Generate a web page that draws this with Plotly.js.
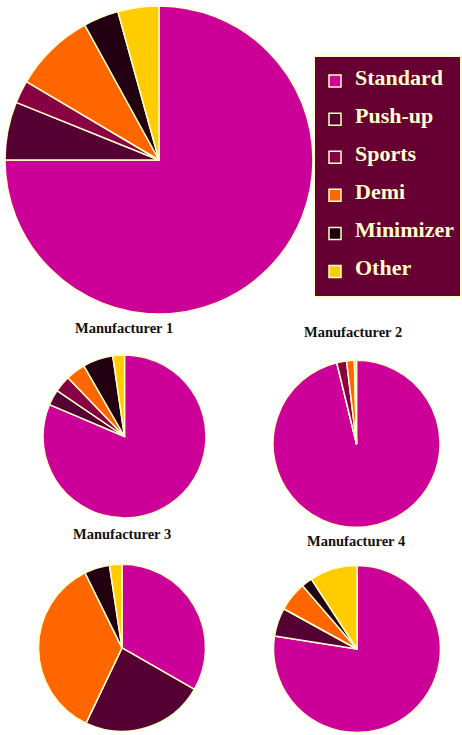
<!DOCTYPE html>
<html>
<head>
<meta charset="utf-8">
<script src="https://cdn.plot.ly/plotly-3.0.1.min.js"></script>
<style>html,body{margin:0;padding:0;background:#fff;}#chart{width:462px;height:735px;}</style>
</head>
<body>
<div id="chart"></div>
<script>
// ---- data ----
const categories = ["Standard", "Push-up", "Sports", "Demi", "Minimizer", "Other"];
const colors = ["#CC0099", "#550033", "#880044", "#FF6600", "#220011", "#FFCC00"];
const overallValues = [75.0, 6.1, 2.4, 8.5, 3.7, 4.3];
const manufacturer1 = [81.4, 3.1, 3.3, 3.9, 6.0, 2.3];
const manufacturer2 = [96.2, 0, 1.9, 1.5, 0, 0.4];
const manufacturer3 = [33.3, 23.8, 0, 35.6, 4.9, 2.4];
const manufacturer4 = [77.5, 5.5, 0, 5.7, 2.1, 9.2];
const pieTitles = ["Manufacturer 1", "Manufacturer 2", "Manufacturer 3", "Manufacturer 4"];

// ---- layout helpers ----
const W = 462, H = 735;
function dom(cx, cy, r) {
  return { x: [(cx - r) / W, (cx + r) / W], y: [(H - cy - r) / H, (H - cy + r) / H] };
}
const cream = "#FFFFCC";
// legend labels: larger text padded with empty lines for the wide row spacing
const legendLabels = categories.map(c => "<br><span style='font-size:22px'>" + c + "</span><br>");

function pie(values, domain, showlegend) {
  return {
    type: "pie",
    labels: legendLabels,
    values: values,
    sort: false,
    direction: "clockwise",
    rotation: 0,
    textinfo: "none",
    hoverinfo: "percent",
    marker: { colors: colors, line: { color: cream, width: 1.5 } },
    domain: domain,
    showlegend: showlegend
  };
}

const traces = [
  pie(overallValues, dom(159, 160, 154), true),
  pie(manufacturer1, dom(124.5, 436.5, 81.5), false),
  pie(manufacturer2, dom(356.5, 443.8, 83.5), false),
  pie(manufacturer3, dom(122, 647.8, 83.5), false),
  pie(manufacturer4, dom(357, 649, 83.5), false)
];

const titlePos = [[124, 328], [353, 331.5], [122, 534], [356, 540.5]];
const annotations = pieTitles.map((t, i) => ({
  text: t, xref: "paper", yref: "paper",
  x: titlePos[i][0] / W, y: (H - titlePos[i][1]) / H,
  xanchor: "center", yanchor: "middle", showarrow: false,
  font: { family: "Liberation Serif", size: 14.5, color: "#111", weight: "bold" }
}));

const layout = {
  width: W, height: H,
  margin: { l: 0, r: 0, t: 0, b: 0 },
  paper_bgcolor: "#ffffff",
  plot_bgcolor: "#ffffff",
  showlegend: true,
  legend: {
    x: 1, xanchor: "right", y: (H - 55) / H, yanchor: "top",
    bgcolor: "#660033", bordercolor: cream, borderwidth: 2,
    font: { family: "Liberation Serif", size: 9, color: cream, weight: "bold" },
    traceorder: "normal"
  },
  annotations: annotations
};

Plotly.newPlot("chart", traces, layout, { displayModeBar: false });
</script>
</body>
</html>
